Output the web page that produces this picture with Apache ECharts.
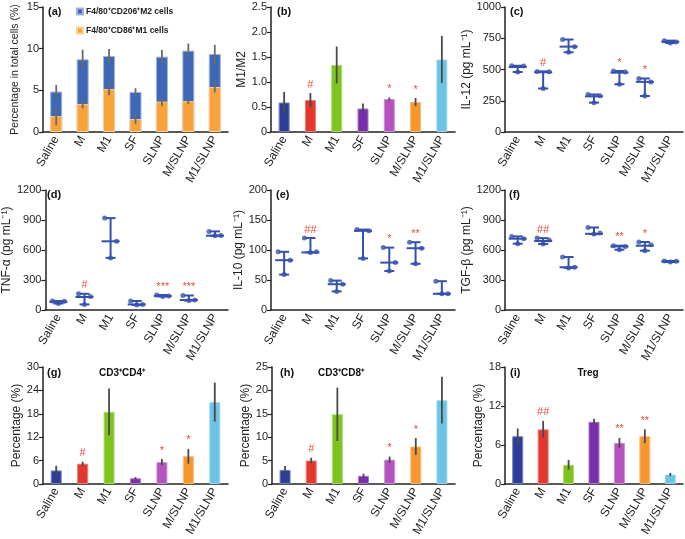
<!DOCTYPE html>
<html><head><meta charset="utf-8">
<script src="https://cdn.jsdelivr.net/npm/echarts@6/dist/echarts.min.js"></script>
<style>html,body{margin:0;padding:0;background:#fff}#c{width:685px;height:539px}</style>
</head><body><div id="c"></div>
<script>
// ---------- DATA ----------
const categories = ['Saline','M','M1','SF','SLNP','M/SLNP','M1/SLNP'];

// (a) macrophage percentages
const m2Total = [4.85, 8.72, 9.12, 4.8, 9.04, 9.76, 9.36];
const m2Err   = [0.8, 1.15, 0.85, 0.45, 0.8, 0.85, 1.1];
const m1Part  = [1.9, 3.35, 5.15, 1.55, 3.65, 3.7, 5.4];
const m1Err   = [1.1, 0.5, 0.75, 0.6, 0.5, 0.35, 0.65];

// (b) M1/M2
const ratioM1M2 = [0.59, 0.64, 1.34, 0.47, 0.66, 0.60, 1.45];
const ratioErr  = [0.21, 0.14, 0.37, 0.10, 0.03, 0.08, 0.47];

// (c) IL-12 dots and center line
const il12Dots = [[530,528,480],[485,482,348],[740,683,638],[300,290,235],[488,480,382],[428,401,288],[731,720,712]];
const il12Line = [520,478,683,285,475,401,722];
// (d) TNF-alpha
const tnfDots = [[90,88,65],[162,136,56],[919,687,521],[90,56,50],[150,140,135],[145,100,95],[786,746,743]];
const tnfLine = [82,130,687,56,140,100,743];
// (e) IL-10
const il10Dots = [[97,83,59],[120,97,96],[49,43,31],[134,132,86],[104,79,65],[113,103,77],[48,27,27]];
const il10Line = [83,96,43,132,79,103,27];
// (f) TGF-beta
const tgfDots = [[736,713,663],[719,700,660],[530,428,421],[825,769,759],[643,636,603],[680,653,593],[490,487,480]];
const tgfLine = [713,690,428,762,636,643,485];

// (g) CD3+CD4+
const cd4    = [3.46, 5.2, 18.5, 1.45, 5.6, 7.1, 21.0];
const cd4Err = [1.2, 0.5, 6.0, 0.3, 0.8, 1.9, 5.0];
// (h) CD3+CD8+
const cd8    = [3.0, 5.0, 14.9, 1.73, 5.2, 8.0, 17.9];
const cd8Err = [0.85, 0.6, 5.7, 0.45, 0.65, 1.8, 5.0];
// (i) Treg
const treg    = [7.34, 8.4, 2.95, 9.57, 6.33, 7.34, 1.45];
const tregErr = [1.2, 1.3, 0.75, 0.45, 0.75, 1.05, 0.25];

// significance marks
const sigB = ['','#','','','*','*',''];
const sigC = ['','#','','','*','*',''];
const sigD = ['','#','','','***','***',''];
const sigE = ['','##','','','*','**',''];
const sigF = ['','##','','','**','*',''];
const sigG = ['','#','','','*','*',''];
const sigH = ['','#','','','*','*',''];
const sigI = ['','##','','','**','**',''];

// ---------- STYLE ----------
const FONT = "'Liberation Sans', Arial, Helvetica, sans-serif";
const barColors = ['#2c3d99','#e2372c','#7fc41e','#7a2faa','#b452be','#f7962e','#6cc4e4'];
const dotColor = '#3451ad';
const sigColor = '#ea4a3f';
const axisColor = '#222';
const dotOffsets = [-6, 6, 0];

function lighten(hex, t){
  const n = parseInt(hex.slice(1),16);
  let r=(n>>16)&255,g=(n>>8)&255,b=n&255;
  r=Math.round(r+(255-r)*t);g=Math.round(g+(255-g)*t);b=Math.round(b+(255-b)*t);
  return 'rgb('+r+','+g+','+b+')';
}

const grids = [
  {left:43, top:7, width:185, height:125},
  {left:271, top:7, width:184, height:125},
  {left:505, top:7, width:178, height:125},
  {left:43, top:190, width:185, height:120},
  {left:271, top:190, width:184, height:120},
  {left:505, top:190, width:178, height:120},
  {left:43, top:367, width:185, height:124},
  {left:272, top:367, width:183, height:124},
  {left:505, top:367, width:178, height:124}
];

function xAxisFor(gi){
  return {gridIndex:gi, type:'category', data:categories,
    axisLine:{lineStyle:{color:axisColor,width:1.5}},
    axisTick:{length:4, lineStyle:{color:axisColor,width:1.2}},
    axisLabel:{rotate:60, fontSize:12, color:axisColor, margin:5, interval:0, fontFamily:FONT}};
}
function yAxisFor(gi, max, interval, name, nameGap, fmt, nameSize){
  return {gridIndex:gi, type:'value', min:0, max:max, interval:interval,
    name:name, nameLocation:'middle', nameGap:nameGap, nameRotate:90,
    nameTextStyle:{fontSize:nameSize||12, color:axisColor, fontFamily:FONT},
    axisLine:{show:true, lineStyle:{color:axisColor,width:1.5}},
    axisTick:{show:true, length:4, lineStyle:{color:axisColor,width:1.2}},
    splitLine:{show:false},
    axisLabel:{fontSize:11, color:axisColor, margin:4, fontFamily:FONT, formatter:fmt || (v => String(v))}};
}

function colorBars(gi, vals, width){
  return {type:'bar', xAxisIndex:gi, yAxisIndex:gi, barWidth:width||11, silent:true,
    data: vals.map((v,i)=>({value:v, itemStyle:{color:barColors[i], borderColor:lighten(barColors[i],0.35), borderWidth:1}}))};
}
function errBars(gi, vals, errs, color){
  return {type:'custom', xAxisIndex:gi, yAxisIndex:gi, silent:true, z:5,
    encode:{x:0, y:[1,2]},
    data: vals.map((v,i)=>[i, v-errs[i], v+errs[i]]),
    renderItem:(p, api)=>{
      const lo = api.coord([api.value(0), api.value(1)]);
      const hi = api.coord([api.value(0), api.value(2)]);
      return {type:'line', shape:{x1:lo[0],y1:lo[1],x2:hi[0],y2:hi[1]}, style:{stroke:color||'#4a4a4a', lineWidth:1.8}};
    }};
}
function sigMarks(gi, tops, sig){
  return {type:'custom', xAxisIndex:gi, yAxisIndex:gi, silent:true, z:6,
    encode:{x:0, y:1},
    data: tops.map((t,i)=>[i, t]),
    renderItem:(p, api)=>{
      const s = sig[p.dataIndex];
      if(!s) return null;
      const c = api.coord([api.value(0), api.value(1)]);
      return {type:'text', x:c[0], y:c[1]-3,
        style:{text:s, align:'center', verticalAlign:'bottom', fill:sigColor, font:'11px '+FONT}};
    }};
}
function dotPlot(gi, dots, line){
  const ranges = dots.map((d,i)=>[i, Math.min(...d), Math.max(...d), line[i]]);
  const rng = {type:'custom', xAxisIndex:gi, yAxisIndex:gi, silent:true, z:3,
    encode:{x:0, y:[1,2]},
    data: ranges,
    renderItem:(p, api)=>{
      const i = api.value(0);
      const lo = api.coord([i, api.value(1)]);
      const hi = api.coord([i, api.value(2)]);
      const md = api.coord([i, api.value(3)]);
      const st = {stroke:dotColor, lineWidth:2};
      return {type:'group', children:[
        {type:'line', shape:{x1:lo[0],y1:lo[1],x2:hi[0],y2:hi[1]}, style:st},
        {type:'line', shape:{x1:lo[0]-5,y1:lo[1],x2:lo[0]+5,y2:lo[1]}, style:st},
        {type:'line', shape:{x1:hi[0]-5,y1:hi[1],x2:hi[0]+5,y2:hi[1]}, style:st},
        {type:'line', shape:{x1:md[0]-9,y1:md[1],x2:md[0]+9,y2:md[1]}, style:st}
      ]};
    }};
  const pts = [];
  dots.forEach((d,i)=>d.forEach((v,j)=>pts.push({value:[i,v], symbolOffset:[dotOffsets[j],0]})));
  const sc = {type:'scatter', xAxisIndex:gi, yAxisIndex:gi, silent:true, z:4,
    symbol:'circle', symbolSize:5, itemStyle:{color:dotColor}, data:pts};
  return [rng, sc];
}

const fmt1 = v => v===0 ? '0' : v.toFixed(1);

const xAxes = grids.map((g,i)=>xAxisFor(i));
const yAxes = [
  yAxisFor(0, 15, 5, 'Percentage in total cells (%)', 22, null, 10.5),
  yAxisFor(1, 2.5, 0.5, 'M1/M2', 17, fmt1),
  yAxisFor(2, 1000, 250, 'IL-12 (pg mL\u207B\u00B9)', 26),
  yAxisFor(3, 1200, 300, 'TNF-\u03B1 (pg mL\u207B\u00B9)', 29),
  yAxisFor(4, 200, 50, 'IL-10 (pg mL\u207B\u00B9)', 24),
  yAxisFor(5, 1200, 300, 'TGF-\u03B2 (pg mL\u207B\u00B9)', 29),
  yAxisFor(6, 30, 6, 'Percentage (%)', 20),
  yAxisFor(7, 25, 5, 'Percentage (%)', 18),
  yAxisFor(8, 18, 6, 'Percentage (%)', 18)
];

const series = [];
// (a)
series.push({name:'F4/80\u207ACD206\u207AM2 cells', type:'bar', xAxisIndex:0, yAxisIndex:0, barWidth:12, barGap:'-100%', silent:true,
  itemStyle:{color:'#3e67b6', borderColor:'#9db4e2', borderWidth:1}, data:m2Total});
series.push({name:'F4/80\u207ACD86\u207AM1 cells', type:'bar', xAxisIndex:0, yAxisIndex:0, barWidth:12, barGap:'-100%', silent:true,
  itemStyle:{color:'#f8a23b', borderColor:'#fccf95', borderWidth:1}, data:m1Part});
series.push(errBars(0, m2Total, m2Err, '#6b6b6b'));
series.push(errBars(0, m1Part, m1Err, '#6b6b6b'));
// (b)
series.push(colorBars(1, ratioM1M2));
series.push(errBars(1, ratioM1M2, ratioErr));
series.push(sigMarks(1, ratioM1M2.map((v,i)=>v+ratioErr[i]), sigB));
// (c)-(f)
series.push(...dotPlot(2, il12Dots, il12Line));
series.push(sigMarks(2, il12Dots.map(d=>Math.max(...d)), sigC));
series.push(...dotPlot(3, tnfDots, tnfLine));
series.push(sigMarks(3, tnfDots.map(d=>Math.max(...d)), sigD));
series.push(...dotPlot(4, il10Dots, il10Line));
series.push(sigMarks(4, il10Dots.map(d=>Math.max(...d)), sigE));
series.push(...dotPlot(5, tgfDots, tgfLine));
series.push(sigMarks(5, tgfDots.map(d=>Math.max(...d)), sigF));
// (g)-(i)
series.push(colorBars(6, cd4));
series.push(errBars(6, cd4, cd4Err));
series.push(sigMarks(6, cd4.map((v,i)=>v+cd4Err[i]), sigG));
series.push(colorBars(7, cd8));
series.push(errBars(7, cd8, cd8Err));
series.push(sigMarks(7, cd8.map((v,i)=>v+cd8Err[i]), sigH));
series.push(colorBars(8, treg));
series.push(errBars(8, treg, tregErr));
series.push(sigMarks(8, treg.map((v,i)=>v+tregErr[i]), sigI));

function label(text, x, y, size, align){
  return {type:'text', x:x, y:y, silent:true,
    style:{text:text, font:'bold '+(size||11)+'px '+FONT, fill:'#111', align:align||'left', verticalAlign:'top'}};
}

const option = {
  animation:false,
  backgroundColor:'#fff',
  textStyle:{fontFamily:FONT},
  grid: grids,
  xAxis: xAxes,
  yAxis: yAxes,
  legend:{show:true, orient:'vertical', left:76, top:7, padding:0, itemWidth:6, itemHeight:6, itemGap:10,
    icon:'rect', selectedMode:false,
    data:['F4/80\u207ACD206\u207AM2 cells','F4/80\u207ACD86\u207AM1 cells'],
    textStyle:{fontSize:8.5, fontWeight:'bold', color:'#222', fontFamily:FONT, padding:[0,0,0,-2]}},
  graphic: [
    label('(a)', 48, 6), label('(b)', 277, 6), label('(c)', 510, 6),
    label('(d)', 47, 189), label('(e)', 276, 189), label('(f)', 509, 189),
    label('(g)', 47, 367), label('(h)', 280, 367), label('(i)', 510, 367),
    label('CD3\u207ACD4\u207A', 122, 368, 10, 'center'),
    label('CD3\u207ACD8\u207A', 341, 368, 10, 'center'),
    label('Treg', 588, 368, 10, 'center')
  ],
  series: series
};

const chart = echarts.init(document.getElementById('c'), null, {renderer:'canvas'});
chart.setOption(option);
</script>
</body></html>
